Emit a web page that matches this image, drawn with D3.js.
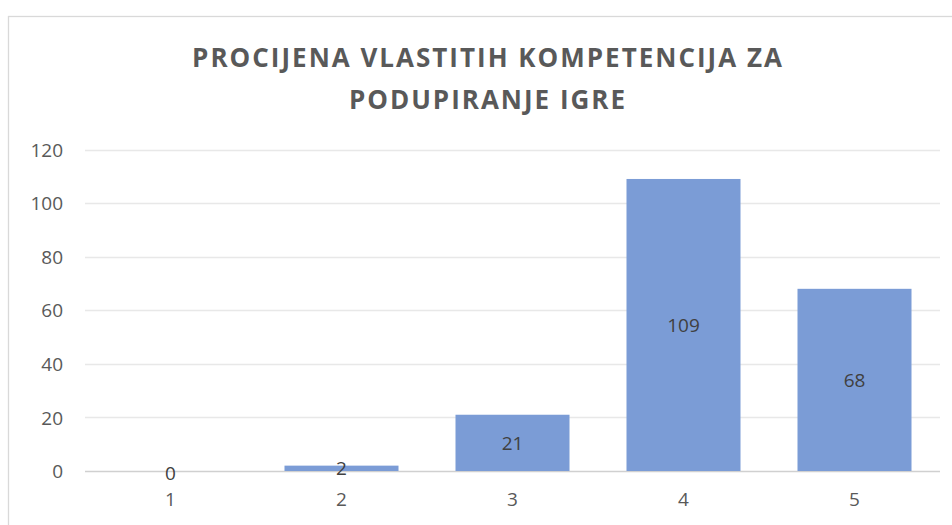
<!DOCTYPE html>
<html><head><meta charset="utf-8">
<script src="https://cdn.jsdelivr.net/npm/d3@7"></script>
<style>body{margin:0;background:#fff}svg{display:block}</style>
</head><body><svg id="c" width="952" height="525"></svg>
<script>
const categories = ["1","2","3","4","5"];
const values = [0, 2, 21, 109, 68];
const yTicks = [0, 20, 40, 60, 80, 100, 120];
const titleLines = ["PROCIJENA VLASTITIH KOMPETENCIJA ZA", "PODUPIRANJE IGRE"];

const svg = d3.select("#c");
const font = "'Open Sans', 'Liberation Sans', sans-serif";
// chart border
svg.append("rect").attr("x",8.5).attr("y",16.5).attr("width",960).attr("height",540)
  .attr("fill","#fff").attr("stroke","#d9d9d9").attr("stroke-width",1.3);

const x = d3.scaleBand().domain(categories).range([85,940]).paddingInner(1/3).paddingOuter(1/6);
const y = d3.scaleLinear().domain([0,120]).range([471,149.5]);

// gridlines
svg.append("g").selectAll("line").data(yTicks).join("line")
  .attr("x1",85).attr("x2",940)
  .attr("y1",d=>Math.round(y(d))+0.5).attr("y2",d=>Math.round(y(d))+0.5)
  .attr("stroke",d=>d===0?"#d0d0d0":"#e8e8e8").attr("stroke-width",1.3);

// y axis labels
const yAxis = d3.axisLeft(y).tickValues(yTicks).tickSize(0).tickPadding(0);
const gy = svg.append("g").attr("transform","translate(63,0)").call(yAxis);
gy.select(".domain").remove();
gy.selectAll("text").attr("font-family",font).attr("font-size",19).attr("fill","#595959").attr("dy","0.35em");

// x axis labels
const xAxis = d3.axisBottom(x).tickSize(0).tickPadding(0);
const gx = svg.append("g").attr("transform","translate(0,492)").call(xAxis);
gx.select(".domain").remove();
gx.selectAll("text").attr("font-family",font).attr("font-size",19).attr("fill","#595959").attr("dy","0.71em");

// bars
svg.append("g").selectAll("rect").data(values).join("rect")
  .attr("x",(d,i)=>x(categories[i])).attr("width",x.bandwidth())
  .attr("y",d=>y(d)).attr("height",d=>y(0)-y(d))
  .attr("fill","#7b9cd6");

// data labels
svg.append("g").selectAll("text").data(values).join("text")
  .attr("x",(d,i)=>x(categories[i])+x.bandwidth()/2)
  .attr("y",d=>(y(d)+y(0))/2 + (d===0?2:0))
  .attr("dy","0.35em").attr("text-anchor","middle")
  .attr("font-family",font).attr("font-size",19).attr("fill","#404040")
  .text(d=>d);

// title
svg.append("g").selectAll("text").data(titleLines).join("text")
  .attr("x",488).attr("y",(d,i)=>67+i*42)
  .attr("text-anchor","middle").attr("font-family",font).attr("font-weight","bold")
  .attr("font-size",26).attr("letter-spacing","2px").attr("fill","#595959")
  .text(d=>d);
</script></body></html>
